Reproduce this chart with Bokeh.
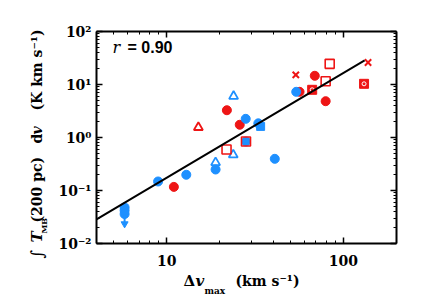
from math import log10, pi
from bokeh.plotting import figure
from bokeh.models import FixedTicker, LogAxis, CustomJSTickFormatter, Label, Range1d
from bokeh.embed import file_html
from bokeh.resources import INLINE

RED = "#ee1515"
BLUE = "#1e90ff"

# ---- data ----
blue_circ_x = [5.77, 5.77, 5.77, 8.93, 12.9, 18.9, 28.1, 28.0, 33.0, 40.9, 54.1]
blue_circ_y = [0.048, 0.042, 0.036, 0.148, 0.198, 0.249, 0.84, 2.25, 1.85, 0.396, 7.28]
blue_sq_x = [34.0]
blue_sq_y = [1.62]
blue_tri_x = [18.9, 23.8, 23.9]
blue_tri_y = [0.337, 0.471, 6.0]
red_circ_x = [10.97, 21.9, 25.9, 56.5, 68.9, 79.4]
red_circ_y = [0.117, 3.27, 1.74, 7.28, 14.6, 4.84]
red_tri_x = [15.1]
red_tri_y = [1.55]
red_sq_x = [21.8, 28.1, 83.7, 79.4]
red_sq_y = [0.594, 0.84, 24.5, 11.5]
red_x_x = [53.8, 138.0]
red_x_y = [15.2, 26.0]
red_dsq_x = [66.6, 131.0]
red_dsq_y = [7.94, 10.3]
limit_x = [5.77]
limit_y = [0.036]
limit_end = [0.0235]
fit_x = [4.0, 132.0]
fit_y = [0.0284, 28.4]
r_value = 0.90

x_ticks = [10, 100]
x_tick_labels = ["10", "100"]
y_ticks = [0.01, 0.1, 1, 10, 100]
y_tick_labels = ["10\u207b\u00b2", "10\u207b\u00b9", "10\u2070", "10\u00b9", "10\u00b2"]

XMIN, XMAX, YMIN, YMAX = 4, 200, 0.01, 100

# canvas and the box (in canvas pixels) that holds the axes
W, H = 408, 298
BOX_L, BOX_R, BOX_T, BOX_B = 96, 396, 31, 243
LX0, LX1 = log10(XMIN), log10(XMAX)
LY0, LY1 = log10(YMIN), log10(YMAX)
kx = (LX1 - LX0) / (BOX_R - BOX_L)
ky = (LY1 - LY0) / (BOX_B - BOX_T)
x_range = Range1d(10 ** (LX0 - BOX_L * kx), 10 ** (LX1 + (W - BOX_R) * kx))
y_range = Range1d(10 ** (LY0 - (H - BOX_B) * ky), 10 ** (LY1 + BOX_T * ky))

p = figure(width=W, height=H, x_axis_type="log", y_axis_type="log",
           x_range=x_range, y_range=y_range,
           x_axis_location=None, y_axis_location=None,
           min_border=0, min_border_left=0, min_border_right=0,
           min_border_top=0, min_border_bottom=0,
           output_backend="svg", toolbar_location=None)
p.grid.visible = False
p.outline_line_color = None
p.background_fill_color = "white"
p.border_fill_color = "white"

x_minor = [k * 10 ** e for e in range(0, 3) for k in range(2, 10) if XMIN <= k * 10 ** e <= XMAX]
y_minor = [k * 10.0 ** e for e in range(-2, 2) for k in range(2, 10)]

def fmt(tv, tl):
    return CustomJSTickFormatter(args=dict(tv=tv, tl=tl), code="""
        for (let i = 0; i < tv.length; i++) {
            if (Math.abs(Math.log10(tv[i]) - Math.log10(tick)) < 1e-6) return tl[i];
        }
        return "";
    """)

def make_axis(ticks, minor, labels, loc, bounds, show, standoff):
    ax = LogAxis(ticker=FixedTicker(ticks=ticks, minor_ticks=minor),
                 formatter=fmt(ticks, labels), fixed_location=loc, bounds=bounds)
    ax.major_tick_in = 6
    ax.major_tick_out = 0
    ax.minor_tick_in = 3
    ax.minor_tick_out = 0
    ax.axis_line_width = 2
    ax.major_tick_line_width = 1.5
    ax.minor_tick_line_width = 1
    ax.major_label_text_font = "DejaVu Serif"
    ax.major_label_text_font_size = "14px"
    ax.major_label_text_font_style = "bold"
    ax.major_label_text_color = "black"
    ax.major_label_standoff = standoff
    if not show:
        ax.major_label_text_alpha = 0
    return ax

p.add_layout(make_axis(x_ticks, x_minor, x_tick_labels, YMIN, (XMIN, XMAX), True, 11), "below")
p.add_layout(make_axis(x_ticks, x_minor, x_tick_labels, YMAX, (XMIN, XMAX), False, 4), "above")
p.add_layout(make_axis(y_ticks, y_minor, y_tick_labels, XMIN, (YMIN, YMAX), True, 5), "left")
p.add_layout(make_axis(y_ticks, y_minor, y_tick_labels, XMAX, (YMIN, YMAX), False, 4), "right")

# ---- marks ----
p.scatter(red_circ_x, red_circ_y, marker="circle", size=9, color=RED)
p.scatter(blue_circ_x, blue_circ_y, marker="circle", size=9, color=BLUE)
p.scatter(blue_sq_x, blue_sq_y, marker="square", size=8, color=BLUE)
p.scatter(blue_tri_x, blue_tri_y, marker="triangle", size=9, fill_color=None,
          line_color=BLUE, line_width=1.8)
p.scatter(red_tri_x, red_tri_y, marker="triangle", size=9, fill_color=None,
          line_color=RED, line_width=1.8)
p.scatter(red_sq_x, red_sq_y, marker="square", size=9, fill_color=None,
          line_color=RED, line_width=1.6)
p.scatter(red_x_x, red_x_y, marker="x", size=9, line_color=RED, line_width=2)
p.scatter(red_dsq_x, red_dsq_y, marker="square", size=9, color=RED)
p.scatter(red_dsq_x, red_dsq_y, marker="circle", size=4, fill_color=None,
          line_color="white", line_width=1)
p.segment(limit_x, limit_y, limit_x, limit_end, line_color=BLUE, line_width=2)
p.scatter(limit_x, limit_end, marker="inverted_triangle", size=7, color=BLUE)
p.line(fit_x, fit_y, line_color="black", line_width=2)

# ---- texts, placed in canvas pixels (frame == canvas) ----
def lab(px, py, text, size, angle=0.0, font="DejaVu Serif", style="bold", align="left"):
    p.add_layout(Label(x=px, y=H - py, x_units="screen", y_units="screen", text=text,
                       angle=angle, text_align=align, text_baseline="middle",
                       text_font=font, text_font_size=size, text_font_style=style,
                       text_color="black"))

lab(112, 47, "r", "16px", style="italic")
lab(127, 47, "= %.2f" % r_value, "16px", font="Liberation Sans", style="bold")

# x label
lab(183, 280, "\u0394", "15px")
lab(195, 280, "v", "15px", style="bold italic")
lab(204, 290, "max", "9px")
lab(235, 280, "(km  s\u207b\u00b9)", "14px")

# y label
A = pi / 2
lab(36, 258, "\u222b", "17px", angle=A, style="normal")
lab(36, 242, "T", "15px", angle=A, style="bold italic")
lab(43, 233, "MB", "8px", angle=A)
lab(36, 222, "(200  pc)", "14px", angle=A)
lab(36, 143, "d", "14px", angle=A)
lab(36, 134, "v", "14px", angle=A, style="bold italic")
lab(36, 110, "(K  km  s\u207b\u00b9)", "14px", angle=A)

open("out.html", "w").write(file_html(p, INLINE))
